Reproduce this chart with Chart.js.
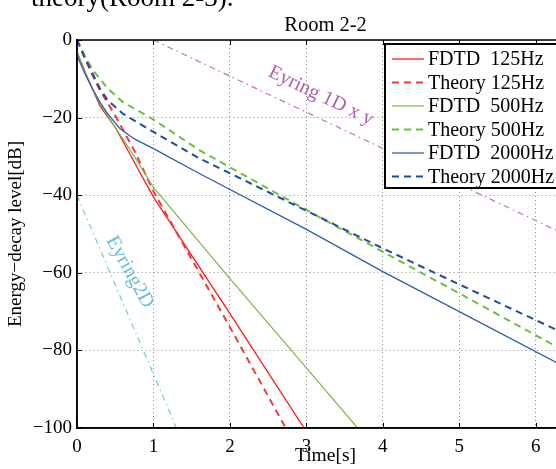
<!DOCTYPE html>
<html>
<head>
<meta charset="utf-8">
<script src="https://cdn.jsdelivr.net/npm/chart.js@4/dist/chart.umd.min.js"></script>
<style>
html,body{margin:0;padding:0;background:#fff;overflow:hidden;width:556px;height:469px;}
#wrap{position:relative;width:556px;height:469px;overflow:hidden;}
#cap{position:absolute;left:31px;top:-16px;font:27px "Liberation Serif",serif;line-height:27px;white-space:nowrap;color:#000;}
canvas{position:absolute;left:0;top:0;}
</style>
</head>
<body>
<div id="wrap">
<canvas id="c" width="574" height="480"></canvas>
<div id="cap">theory(Room 2-3).</div>
</div>
<script>
// decay curves (time in s, level in dB)
const fdtd125T = [0, 0.1, 0.2, 0.3, 0.5, 0.75, 1, 2, 2.97];
const fdtd125  = [-3, -8, -12.5, -17, -22.5, -31.5, -40.5, -70.5, -100];
const theo125T = [0, 0.1, 0.2, 0.3, 0.5, 0.75, 1, 2, 2.73];
const theo125  = [0, -4.5, -9, -13, -19.5, -28.5, -39, -74, -100];
const fdtd500T = [0, 0.1, 0.2, 0.3, 0.5, 0.75, 1, 2, 3, 3.67];
const fdtd500  = [-3, -8, -12.5, -16.5, -22.5, -30, -38, -61.5, -84.5, -100];
const theo500T = [0, 0.1, 0.2, 0.3, 0.4, 0.6, 1, 1.6, 3, 4, 5, 6.5];
const theo500  = [0, -4, -7.5, -10, -12.5, -16, -20.5, -28.4, -43.8, -54.6, -65.3, -81.5];
const fdtd2kT  = [0, 0.1, 0.2, 0.3, 0.4, 0.56, 0.75, 1, 1.6, 3, 4, 5, 6.5];
const fdtd2k   = [-4, -8.5, -12.5, -16, -19, -22.8, -25.5, -28, -34.4, -48.8, -59.7, -70, -85.5];
const theo2kT  = [0, 0.1, 0.2, 0.3, 0.4, 0.6, 1, 1.6, 3, 4, 5, 6.5];
const theo2k   = [0, -4.5, -8.5, -12.5, -15.5, -19, -23.7, -30.5, -44, -53.7, -63, -76.8];
const eyr1dT   = [1, 6.5];
const eyr1d    = [0, -51.2];
const eyr2dT   = [0, 1.3];
const eyr2d    = [-40, -100];

const xTicks = [0, 1, 2, 3, 4, 5, 6];
const yTicks = [0, -20, -40, -60, -80, -100];
const seriesNames = ['FDTD  125Hz', 'Theory 125Hz', 'FDTD  500Hz', 'Theory 500Hz', 'FDTD  2000Hz', 'Theory 2000Hz'];
const eyringNames = ['Eyring 1D x y', 'Eyring2D'];

const SERIF = '"Liberation Serif", "Times New Roman", serif';
Chart.defaults.font.family = SERIF;
Chart.defaults.color = '#000';

const pts = (ts, vs) => ts.map((t, i) => ({x: t, y: vs[i]}));
const dash = [7, 5];
const dashDot = [6, 4, 1.5, 4];

function line(label, ts, vs, color, width, d, inLegend){
  return {label, data: pts(ts, vs), borderColor: color, borderWidth: width,
    borderDash: d || [], pointRadius: 0, tension: 0, fill: false, inLegend};
}

const datasets = [
  line(eyringNames[0], eyr1dT, eyr1d, '#c070c0', 1.2, dashDot, false),
  line(eyringNames[1], eyr2dT, eyr2d, '#70c8dc', 1.2, dashDot, false),
  line(seriesNames[5], theo2kT, theo2k, '#1f4e9e', 2, dash, true),
  line(seriesNames[4], fdtd2kT, fdtd2k, '#2e5ead', 1.3, null, true),
  line(seriesNames[3], theo500T, theo500, '#6cc03c', 2, dash, true),
  line(seriesNames[2], fdtd500T, fdtd500, '#78b84a', 1.2, null, true),
  line(seriesNames[1], theo125T, theo125, '#f03a3a', 2, dash, true),
  line(seriesNames[0], fdtd125T, fdtd125, '#ff1a1a', 1.3, null, true),
];

// frame + inward ticks like matlab axes
const framePlugin = {
  id: 'frame',
  afterDatasetsDraw(chart){
    const {ctx, chartArea: a, scales: {x, y}} = chart;
    ctx.save();
    ctx.strokeStyle = '#000';
    ctx.lineWidth = 1;
    ctx.beginPath();
    for(const v of xTicks){
      const px = Math.round(x.getPixelForValue(v)) + 0.5;
      ctx.moveTo(px, a.bottom); ctx.lineTo(px, a.bottom - 5);
      ctx.moveTo(px, a.top); ctx.lineTo(px, a.top + 5);
    }
    for(const v of yTicks){
      const py = Math.round(y.getPixelForValue(v)) + 0.5;
      ctx.moveTo(a.left, py); ctx.lineTo(a.left + 5, py);
      ctx.moveTo(a.right, py); ctx.lineTo(a.right - 5, py);
    }
    ctx.stroke();
    ctx.lineWidth = 1.5;
    ctx.strokeRect(a.left, a.top, a.right - a.left, a.bottom - a.top);
    ctx.restore();
  }
};

// rotated Eyring labels, anchored in data coordinates
const notes = [
  {text: eyringNames[0], t: 3.19, db: -14.4, angle: 25.8, color: '#b060a8'},
  {text: eyringNames[1], t: 0.69, db: -59.8, angle: 61, color: '#6cbcd4'},
];
const notePlugin = {
  id: 'notes',
  afterDatasetsDraw(chart){
    const {ctx, scales: {x, y}} = chart;
    ctx.save();
    ctx.font = '20px ' + SERIF;
    ctx.textAlign = 'center';
    ctx.textBaseline = 'middle';
    for(const n of notes){
      ctx.save();
      ctx.translate(x.getPixelForValue(n.t), y.getPixelForValue(n.db));
      ctx.rotate(n.angle * Math.PI / 180);
      ctx.fillStyle = n.color;
      ctx.fillText(n.text, 0, 0);
      ctx.restore();
    }
    ctx.restore();
  }
};

// boxed legend inside the axes, top right
const legendPlugin = {
  id: 'boxLegend',
  afterDraw(chart){
    const {ctx} = chart;
    const items = chart.data.datasets.filter(d => d.inLegend);
    items.sort((a, b) => seriesNames.indexOf(a.label) - seriesNames.indexOf(b.label));
    const x0 = 385, y0 = 44, w = 220, rowH = 23.5;
    ctx.save();
    ctx.fillStyle = '#fff';
    ctx.fillRect(x0, y0, w, 144);
    ctx.strokeStyle = '#000';
    ctx.lineWidth = 2;
    ctx.strokeRect(x0, y0, w, 144);
    ctx.font = '20px ' + SERIF;
    ctx.textBaseline = 'middle';
    items.forEach((d, i) => {
      const cy = y0 + 15 + i * rowH;
      ctx.strokeStyle = d.borderColor;
      ctx.lineWidth = d.borderWidth;
      ctx.setLineDash(d.borderDash);
      ctx.beginPath();
      ctx.moveTo(x0 + 7, cy); ctx.lineTo(x0 + 39, cy);
      ctx.stroke();
      ctx.setLineDash([]);
      ctx.fillStyle = '#000';
      ctx.fillText(d.label, x0 + 43, cy + 1);
    });
    ctx.restore();
  }
};

const minus = v => v < 0 ? '\u2212' + Math.abs(v) : String(v);

new Chart(document.getElementById('c'), {
  type: 'line',
  data: {datasets},
  options: {
    responsive: false,
    animation: false,
    devicePixelRatio: 1,
    layout: {padding: 0, autoPadding: false},
    plugins: {
      legend: {display: false},
      tooltip: {enabled: false},
      title: {display: true, text: 'Room 2-2', fullSize: false,
        font: {size: 20.5, weight: 'normal'}, padding: {top: 13, bottom: 2.4}}
    },
    scales: {
      x: {
        type: 'linear', min: 0, max: 6.5,
        afterBuildTicks: s => { s.ticks = xTicks.map(v => ({value: v})); },
        afterFit: s => { s.height = 52; },
        grid: {color: '#8a8a8a', lineWidth: 1, drawTicks: false},
        border: {display: true, color: '#000', width: 1.5, dash: [1, 3]},
        ticks: {padding: 8, font: {size: 19}, maxRotation: 0, autoSkip: false},
        title: {display: true, text: 'Time[s]', font: {size: 19.5}, padding: {top: 0, bottom: 12}}
      },
      y: {
        type: 'linear', min: -100, max: 0,
        afterBuildTicks: s => { s.ticks = yTicks.map(v => ({value: v})); },
        afterFit: s => { s.width = 77; },
        grid: {color: '#8a8a8a', lineWidth: 1, drawTicks: false},
        border: {display: true, color: '#000', width: 1.5, dash: [1, 3]},
        ticks: {padding: 5, font: {size: 19}, callback: minus},
        title: {display: true, text: 'Energy\u2212decay level[dB]', font: {size: 19}, padding: {top: 5, bottom: 0}}
      }
    }
  },
  plugins: [notePlugin, framePlugin, legendPlugin]
});
</script>
</body>
</html>
